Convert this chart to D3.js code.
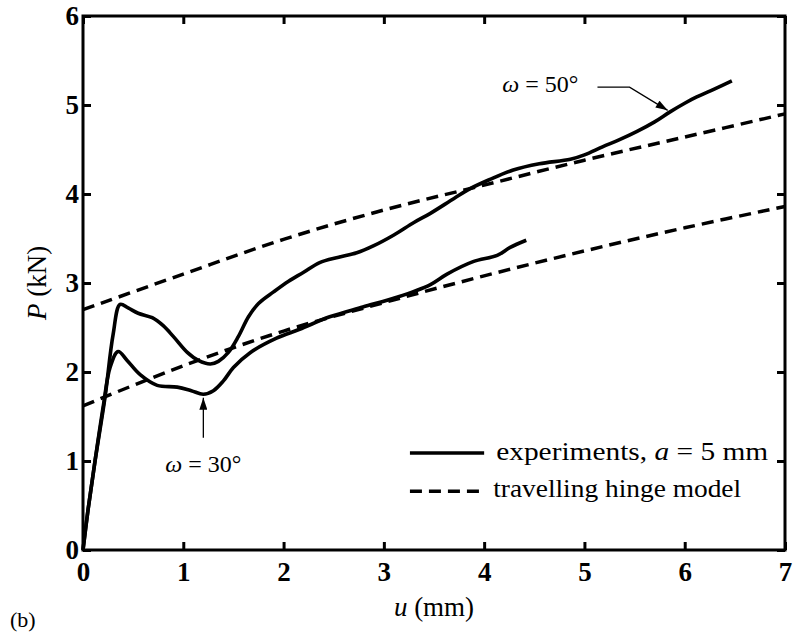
<!DOCTYPE html>
<html>
<head>
<meta charset="utf-8">
<script src="https://cdn.jsdelivr.net/npm/d3@7"></script>
<style>
  body { margin: 0; background: #fff; }
  svg text { font-family: "Liberation Serif", "Times New Roman", serif; fill: #000; }
</style>
</head>
<body>
<svg id="chart" width="793" height="633"></svg>
<script>
// P-u response, experiments vs travelling hinge model

var xTicks = [0, 1, 2, 3, 4, 5, 6, 7];
var yTicks = [0, 1, 2, 3, 4, 5, 6];

// experiment, omega = 50 deg
var exp50U = [0, 0.05, 0.12, 0.22, 0.30, 0.37, 0.45, 0.55, 0.69, 0.80, 0.90, 1.04, 1.15, 1.27,
              1.35, 1.45, 1.55, 1.65, 1.75, 1.90, 2.05, 2.20, 2.36, 2.55, 2.73, 2.90, 3.10,
              3.30, 3.46, 3.70, 3.86, 4.05, 4.29, 4.55, 4.86, 5.00, 5.18, 5.35, 5.52, 5.70,
              5.85, 6.00, 6.12, 6.30, 6.47];
var exp50P = [0, 0.45, 1.00, 1.72, 2.42, 2.76, 2.72, 2.66, 2.61, 2.52, 2.40, 2.22, 2.13, 2.09,
              2.12, 2.22, 2.40, 2.62, 2.77, 2.90, 3.02, 3.12, 3.23, 3.29, 3.34, 3.42, 3.54,
              3.68, 3.78, 3.95, 4.06, 4.16, 4.27, 4.34, 4.39, 4.44, 4.53, 4.61, 4.70, 4.81,
              4.92, 5.02, 5.09, 5.18, 5.27];

// experiment, omega = 30 deg
var exp30U = [0, 0.05, 0.12, 0.20, 0.27, 0.35, 0.44, 0.57, 0.74, 0.94, 1.08, 1.20, 1.30, 1.40,
              1.50, 1.67, 1.93, 2.16, 2.46, 2.79, 3.13, 3.46, 3.63, 3.89, 4.13, 4.26, 4.42];
var exp30P = [0, 0.45, 1.00, 1.60, 2.05, 2.23, 2.13, 1.97, 1.85, 1.83, 1.79, 1.75, 1.79, 1.90,
              2.05, 2.22, 2.38, 2.48, 2.62, 2.73, 2.84, 2.98, 3.10, 3.24, 3.31, 3.40, 3.48];

// travelling hinge model
var modelU = [0, 1, 2, 3, 4, 5, 6, 7];
var model50P = [2.70, 3.10, 3.49, 3.82, 4.10, 4.38, 4.64, 4.90];
var model30P = [1.62, 2.07, 2.46, 2.78, 3.08, 3.36, 3.62, 3.86];

var svg = d3.select("#chart");

var x = d3.scaleLinear().domain([0, 7]).range([83, 785]),
    y = d3.scaleLinear().domain([0, 6]).range([550, 16]);

function zip(us, ps) {
  return us.map(function(u, i) { return [u, ps[i]]; });
}

var line = d3.line()
  .x(function(d) { return x(d[0]); })
  .y(function(d) { return y(d[1]); })
  .curve(d3.curveCatmullRom.alpha(0.5));

var defs = svg.append("defs");
defs.append("marker")
    .attr("id", "head")
    .attr("viewBox", "0 0 12 8")
    .attr("refX", 12)
    .attr("refY", 4)
    .attr("markerUnits", "userSpaceOnUse")
    .attr("markerWidth", 13)
    .attr("markerHeight", 8)
    .attr("orient", "auto")
  .append("path")
    .attr("d", "M0,0L12,4L0,8Z")
    .attr("fill", "#000");

// axes, ticks inward on all four sides
function styleAxis(g) {
  g.select(".domain").remove();
  g.selectAll(".tick line").attr("stroke", "#000").attr("stroke-width", 3);
  g.selectAll(".tick text")
   .attr("font-weight", "bold")
   .attr("font-size", 27)
   .attr("fill", "#000");
}

svg.append("g")
   .attr("transform", "translate(0," + y(0) + ")")
   .call(d3.axisBottom(x).tickValues(xTicks).tickSize(-8).tickPadding(12).tickFormat(d3.format("d")))
   .call(styleAxis);

svg.append("g")
   .attr("transform", "translate(" + x(0) + ",0)")
   .call(d3.axisLeft(y).tickValues(yTicks).tickSize(-8).tickPadding(4).tickFormat(d3.format("d")))
   .call(styleAxis);

svg.append("g")
   .attr("transform", "translate(0," + y(6) + ")")
   .call(d3.axisTop(x).tickValues(xTicks).tickSize(-8).tickFormat(""))
   .call(styleAxis);

svg.append("g")
   .attr("transform", "translate(" + x(7) + ",0)")
   .call(d3.axisRight(y).tickValues(yTicks).tickSize(-8).tickFormat(""))
   .call(styleAxis);

svg.append("rect")
   .attr("x", x(0))
   .attr("y", y(6))
   .attr("width", x(7) - x(0))
   .attr("height", y(0) - y(6))
   .attr("fill", "none")
   .attr("stroke", "#000")
   .attr("stroke-width", 3);

// model lines (dashed)
[model50P, model30P].forEach(function(ps) {
  svg.append("path")
     .datum(zip(modelU, ps))
     .attr("d", line)
     .attr("fill", "none")
     .attr("stroke", "#000")
     .attr("stroke-width", 3.5)
     .attr("stroke-dasharray", "12,7");
});

// experiment curves (solid)
[zip(exp50U, exp50P), zip(exp30U, exp30P)].forEach(function(d) {
  svg.append("path")
     .datum(d)
     .attr("d", line)
     .attr("fill", "none")
     .attr("stroke", "#000")
     .attr("stroke-width", 3.6)
     .attr("stroke-linejoin", "round");
});

// annotations
var t50 = svg.append("text")
   .attr("x", x(4.18))
   .attr("y", y(5.15))
   .attr("font-size", 24);
t50.append("tspan").attr("font-style", "italic").text("ω");
t50.append("tspan").text(" = 50°");

svg.append("path")
   .attr("d", d3.line()([[x(5.13), y(5.2)], [x(5.45), y(5.2)], [x(5.83), y(4.94)]]))
   .attr("fill", "none")
   .attr("stroke", "#000")
   .attr("stroke-width", 1.3)
   .attr("marker-end", "url(#head)");

var t30 = svg.append("text")
   .attr("x", x(1.2))
   .attr("y", y(0.88))
   .attr("text-anchor", "middle")
   .attr("font-size", 24);
t30.append("tspan").attr("font-style", "italic").text("ω");
t30.append("tspan").text(" = 30°");

svg.append("path")
   .attr("d", d3.line()([[x(1.2), y(1.26)], [x(1.2), y(1.71)]]))
   .attr("fill", "none")
   .attr("stroke", "#000")
   .attr("stroke-width", 1.3)
   .attr("marker-end", "url(#head)");

// legend
svg.append("line")
   .attr("x1", x(3.26)).attr("x2", x(4.0))
   .attr("y1", y(1.09)).attr("y2", y(1.09))
   .attr("stroke", "#000")
   .attr("stroke-width", 3.6);

svg.append("line")
   .attr("x1", x(3.26)).attr("x2", x(4.0))
   .attr("y1", y(0.66)).attr("y2", y(0.66))
   .attr("stroke", "#000")
   .attr("stroke-width", 3.5)
   .attr("stroke-dasharray", "12,7");

var l1 = svg.append("text")
   .attr("x", x(4.12))
   .attr("y", y(1.01))
   .attr("font-size", 25)
   .attr("textLength", 272)
   .attr("lengthAdjust", "spacingAndGlyphs");
l1.append("tspan").text("experiments, ");
l1.append("tspan").attr("font-style", "italic").text("a");
l1.append("tspan").text(" = 5 mm");

svg.append("text")
   .attr("x", x(4.09))
   .attr("y", y(0.6))
   .attr("font-size", 25)
   .attr("textLength", 248)
   .attr("lengthAdjust", "spacingAndGlyphs")
   .text("travelling hinge model");

// axis titles
var xt = svg.append("text")
   .attr("x", x(3.5))
   .attr("y", 616)
   .attr("text-anchor", "middle")
   .attr("font-size", 27);
xt.append("tspan").attr("font-style", "italic").text("u");
xt.append("tspan").text(" (mm)");

var yt = svg.append("text")
   .attr("transform", "translate(46," + y(3) + ") rotate(-90)")
   .attr("text-anchor", "middle")
   .attr("font-size", 27);
yt.append("tspan").attr("font-style", "italic").text("P");
yt.append("tspan").text(" (kN)");

svg.append("text")
   .attr("x", 10)
   .attr("y", 627)
   .attr("font-size", 22)
   .text("(b)");
</script>
</body>
</html>
